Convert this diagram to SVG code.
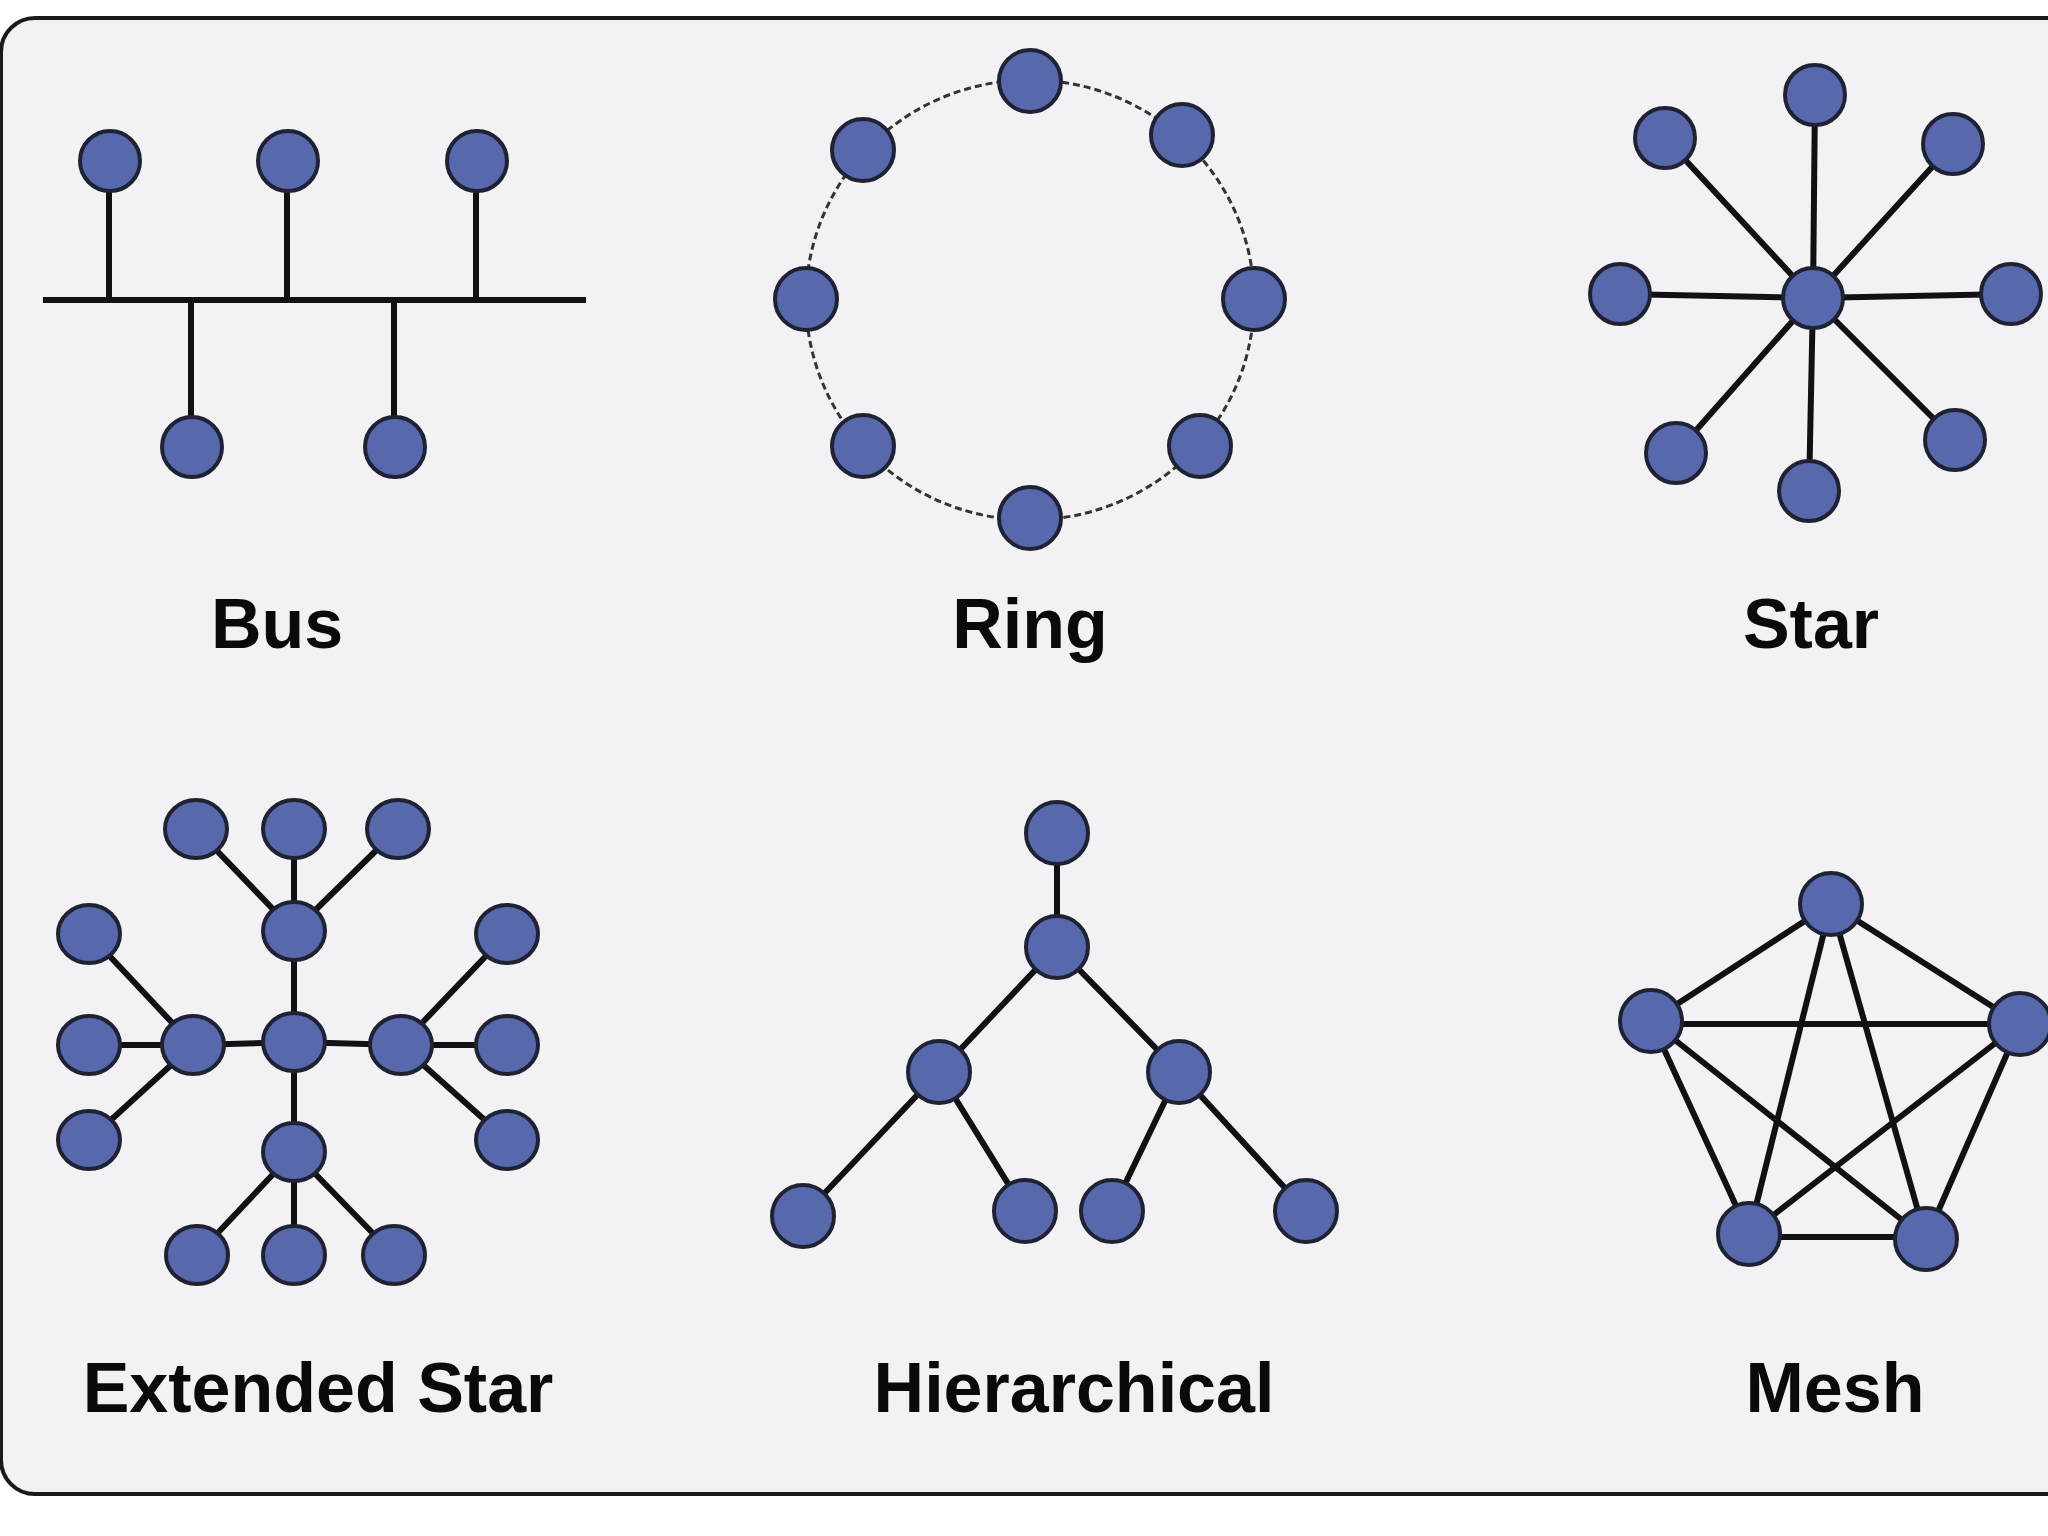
<svg xmlns="http://www.w3.org/2000/svg" width="2048" height="1536" viewBox="0 0 2048 1536">
<style>
.n{fill:#5868ad;stroke:#1e2233;stroke-width:4}
.e{stroke:#111;stroke-width:6;stroke-linecap:butt;fill:none}
.r{stroke:#333;stroke-width:3;fill:none;stroke-dasharray:7 4}
.t{font-family:"Liberation Sans",Arial,sans-serif;font-weight:bold;font-size:70px;fill:#0a0a0a;text-anchor:middle}
</style>
<rect x="0" y="0" width="2048" height="1536" fill="#ffffff"/>
<rect id="frame" x="1" y="18" width="2110" height="1476" rx="34" fill="#f2f2f4" stroke="#1a1a1a" stroke-width="4"/>
<g id="connectors">
  <!-- Bus -->
  <line class="e" x1="43" y1="300" x2="586" y2="300"/>
  <line class="e" x1="109" y1="161" x2="109" y2="300"/>
  <line class="e" x1="287" y1="161" x2="287" y2="300"/>
  <line class="e" x1="476" y1="161" x2="476" y2="300"/>
  <line class="e" x1="191" y1="300" x2="191" y2="447"/>
  <line class="e" x1="394" y1="300" x2="394" y2="447"/>
  <!-- Ring -->
  <ellipse class="r" cx="1030" cy="300" rx="224" ry="220"/>
  <!-- Star -->
  <line class="e" x1="1813" y1="298" x2="1815" y2="95"/>
  <line class="e" x1="1813" y1="298" x2="1953" y2="144"/>
  <line class="e" x1="1813" y1="298" x2="2011" y2="294"/>
  <line class="e" x1="1813" y1="298" x2="1955" y2="440"/>
  <line class="e" x1="1813" y1="298" x2="1809" y2="491"/>
  <line class="e" x1="1813" y1="298" x2="1676" y2="453"/>
  <line class="e" x1="1813" y1="298" x2="1620" y2="294"/>
  <line class="e" x1="1813" y1="298" x2="1665" y2="138"/>
  <!-- Extended Star -->
  <line class="e" x1="294" y1="1042" x2="294" y2="931"/>
  <line class="e" x1="294" y1="1042" x2="294" y2="1152"/>
  <line class="e" x1="294" y1="1042" x2="193" y2="1045"/>
  <line class="e" x1="294" y1="1042" x2="401" y2="1045"/>
  <line class="e" x1="294" y1="931" x2="196" y2="829"/>
  <line class="e" x1="294" y1="931" x2="294" y2="829"/>
  <line class="e" x1="294" y1="931" x2="398" y2="829"/>
  <line class="e" x1="193" y1="1045" x2="89" y2="934"/>
  <line class="e" x1="193" y1="1045" x2="89" y2="1045"/>
  <line class="e" x1="193" y1="1045" x2="89" y2="1140"/>
  <line class="e" x1="401" y1="1045" x2="507" y2="934"/>
  <line class="e" x1="401" y1="1045" x2="507" y2="1045"/>
  <line class="e" x1="401" y1="1045" x2="507" y2="1140"/>
  <line class="e" x1="294" y1="1152" x2="197" y2="1255"/>
  <line class="e" x1="294" y1="1152" x2="294" y2="1255"/>
  <line class="e" x1="294" y1="1152" x2="394" y2="1255"/>
  <!-- Hierarchical -->
  <line class="e" x1="1057" y1="833" x2="1057" y2="947"/>
  <line class="e" x1="1057" y1="947" x2="939" y2="1072"/>
  <line class="e" x1="1057" y1="947" x2="1179" y2="1072"/>
  <line class="e" x1="939" y1="1072" x2="803" y2="1216"/>
  <line class="e" x1="939" y1="1072" x2="1025" y2="1211"/>
  <line class="e" x1="1179" y1="1072" x2="1112" y2="1211"/>
  <line class="e" x1="1179" y1="1072" x2="1306" y2="1211"/>
  <!-- Mesh -->
  <line class="e" x1="1831" y1="904" x2="1651" y2="1021"/>
  <line class="e" x1="1831" y1="904" x2="2020" y2="1024"/>
  <line class="e" x1="1831" y1="904" x2="1749" y2="1234"/>
  <line class="e" x1="1831" y1="904" x2="1926" y2="1239"/>
  <line class="e" x1="1651" y1="1024" x2="2020" y2="1024"/>
  <line class="e" x1="1651" y1="1021" x2="1749" y2="1234"/>
  <line class="e" x1="1651" y1="1021" x2="1926" y2="1239"/>
  <line class="e" x1="2020" y1="1024" x2="1749" y2="1234"/>
  <line class="e" x1="2020" y1="1024" x2="1926" y2="1239"/>
  <line class="e" x1="1749" y1="1237" x2="1926" y2="1237"/>
</g>
<g id="bus">
  <g id="bus-n1"><circle class="n" cx="110" cy="161" r="30"/></g>
  <g id="bus-n2"><circle class="n" cx="288" cy="161" r="30"/></g>
  <g id="bus-n3"><circle class="n" cx="477" cy="161" r="30"/></g>
  <g id="bus-n4"><circle class="n" cx="192" cy="447" r="30"/></g>
  <g id="bus-n5"><circle class="n" cx="395" cy="447" r="30"/></g>
  <text class="t" x="277" y="648">Bus</text>
</g>
<g id="ring">
  <g id="ring-n1"><circle class="n" cx="1030" cy="81" r="31"/></g>
  <g id="ring-n2"><circle class="n" cx="1182" cy="135" r="31"/></g>
  <g id="ring-n3"><circle class="n" cx="1254" cy="299" r="31"/></g>
  <g id="ring-n4"><circle class="n" cx="1200" cy="446" r="31"/></g>
  <g id="ring-n5"><circle class="n" cx="1030" cy="518" r="31"/></g>
  <g id="ring-n6"><circle class="n" cx="863" cy="446" r="31"/></g>
  <g id="ring-n7"><circle class="n" cx="806" cy="299" r="31"/></g>
  <g id="ring-n8"><circle class="n" cx="863" cy="150" r="31"/></g>
  <text class="t" x="1030" y="648">Ring</text>
</g>
<g id="star">
  <g id="star-hub"><circle class="n" cx="1813" cy="298" r="30"/></g>
  <g id="star-n1"><circle class="n" cx="1815" cy="95" r="30"/></g>
  <g id="star-n2"><circle class="n" cx="1953" cy="144" r="30"/></g>
  <g id="star-n3"><circle class="n" cx="2011" cy="294" r="30"/></g>
  <g id="star-n4"><circle class="n" cx="1955" cy="440" r="30"/></g>
  <g id="star-n5"><circle class="n" cx="1809" cy="491" r="30"/></g>
  <g id="star-n6"><circle class="n" cx="1676" cy="453" r="30"/></g>
  <g id="star-n7"><circle class="n" cx="1620" cy="294" r="30"/></g>
  <g id="star-n8"><circle class="n" cx="1665" cy="138" r="30"/></g>
  <text class="t" x="1811" y="648">Star</text>
</g>
<g id="extended-star">
  <g id="ext-center"><ellipse class="n" cx="294" cy="1042" rx="31" ry="29"/></g>
  <g id="ext-top"><ellipse class="n" cx="294" cy="931" rx="31" ry="29"/></g>
  <g id="ext-bottom"><ellipse class="n" cx="294" cy="1152" rx="31" ry="29"/></g>
  <g id="ext-left"><ellipse class="n" cx="193" cy="1045" rx="31" ry="29"/></g>
  <g id="ext-right"><ellipse class="n" cx="401" cy="1045" rx="31" ry="29"/></g>
  <g id="ext-t1"><ellipse class="n" cx="196" cy="829" rx="31" ry="29"/></g>
  <g id="ext-t2"><ellipse class="n" cx="294" cy="829" rx="31" ry="29"/></g>
  <g id="ext-t3"><ellipse class="n" cx="398" cy="829" rx="31" ry="29"/></g>
  <g id="ext-l1"><ellipse class="n" cx="89" cy="934" rx="31" ry="29"/></g>
  <g id="ext-l2"><ellipse class="n" cx="89" cy="1045" rx="31" ry="29"/></g>
  <g id="ext-l3"><ellipse class="n" cx="89" cy="1140" rx="31" ry="29"/></g>
  <g id="ext-r1"><ellipse class="n" cx="507" cy="934" rx="31" ry="29"/></g>
  <g id="ext-r2"><ellipse class="n" cx="507" cy="1045" rx="31" ry="29"/></g>
  <g id="ext-r3"><ellipse class="n" cx="507" cy="1140" rx="31" ry="29"/></g>
  <g id="ext-b1"><ellipse class="n" cx="197" cy="1255" rx="31" ry="29"/></g>
  <g id="ext-b2"><ellipse class="n" cx="294" cy="1255" rx="31" ry="29"/></g>
  <g id="ext-b3"><ellipse class="n" cx="394" cy="1255" rx="31" ry="29"/></g>
  <text class="t" x="318" y="1412">Extended Star</text>
</g>
<g id="hierarchical">
  <g id="hier-root"><circle class="n" cx="1057" cy="833" r="31"/></g>
  <g id="hier-mid"><circle class="n" cx="1057" cy="947" r="31"/></g>
  <g id="hier-l"><circle class="n" cx="939" cy="1072" r="31"/></g>
  <g id="hier-r"><circle class="n" cx="1179" cy="1072" r="31"/></g>
  <g id="hier-l1"><circle class="n" cx="803" cy="1216" r="31"/></g>
  <g id="hier-l2"><circle class="n" cx="1025" cy="1211" r="31"/></g>
  <g id="hier-r1"><circle class="n" cx="1112" cy="1211" r="31"/></g>
  <g id="hier-r2"><circle class="n" cx="1306" cy="1211" r="31"/></g>
  <text class="t" x="1074" y="1412">Hierarchical</text>
</g>
<g id="mesh">
  <g id="mesh-top"><circle class="n" cx="1831" cy="904" r="31"/></g>
  <g id="mesh-left"><circle class="n" cx="1651" cy="1021" r="31"/></g>
  <g id="mesh-right"><circle class="n" cx="2020" cy="1024" r="31"/></g>
  <g id="mesh-bl"><circle class="n" cx="1749" cy="1234" r="31"/></g>
  <g id="mesh-br"><circle class="n" cx="1926" cy="1239" r="31"/></g>
  <text class="t" x="1835" y="1412">Mesh</text>
</g>
</svg>
